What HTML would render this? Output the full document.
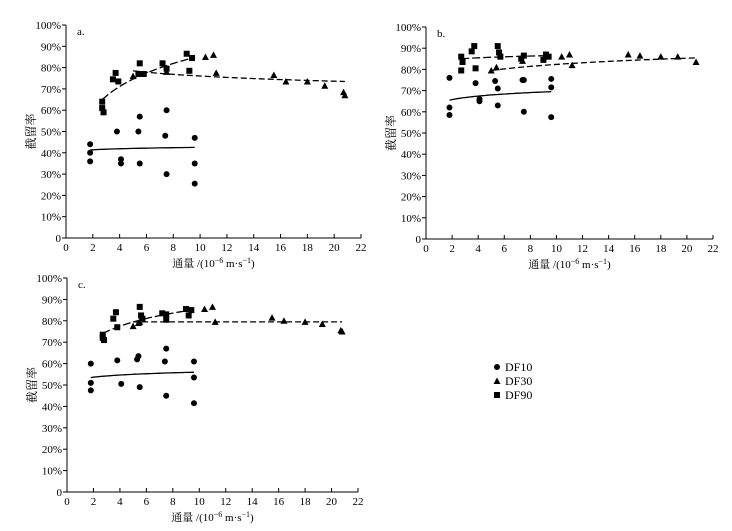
<!DOCTYPE html>
<html><head><meta charset="utf-8"><style>
html,body{margin:0;padding:0;background:#fff;}
svg{display:block;font-family:"Liberation Serif","Noto Serif CJK SC",serif;}
</style></head><body>
<svg id="chart" width="732" height="531" viewBox="0 0 732 531"></svg>
<script>
// ---- data ----
const xTicks = [0,2,4,6,8,10,12,14,16,18,20,22];
const yTicks = [0,10,20,30,40,50,60,70,80,90,100];
const seriesNames = ["DF10","DF30","DF90"];
// panel a
const aDF10x=[1.8,1.8,1.8,3.8,4.1,4.1,5.4,5.5,5.5,7.4,7.5,7.5,9.6,9.6,9.6];
const aDF10y=[44,40,36,50,37,35,50,57,35,48,60,30,47,35,25.5];
const aDF30x=[5.0,5.5,7.5,10.4,11,11.2,15.5,16.4,18,19.3,20.7,20.8];
const aDF30y=[76,77,78,85,86,77.5,76.5,73.5,73.5,71.5,68.5,67];
const aDF90x=[2.7,2.7,2.8,3.5,3.7,3.9,5.4,5.5,5.6,5.8,7.2,7.5,9.0,9.2,9.4];
const aDF90y=[64,61,59,74.5,77.5,73.5,77,82,77,77,82,79.5,86.5,78.5,84.5];
const aFitA=[40.9,84.1,49.5], aFitB=[0.72,-3.5,15.6];
// panel b
const bDF10x=[1.8,1.8,1.8,3.8,4.1,4.1,5.3,5.5,5.5,7.4,7.5,7.5,9.6,9.6,9.6];
const bDF10y=[76,62,58.5,73.5,66,65,74.5,71,63,75,75,60,75.5,71.5,57.5];
const bDF30x=[5.0,5.4,7.4,10.4,11,11.2,15.5,16.4,18,19.3,20.7];
const bDF30y=[79.5,81,84,86,87,82,87,86.5,86,86,83.5];
const bDF90x=[2.7,2.7,2.8,3.5,3.7,3.8,5.5,5.6,5.7,7.3,7.5,9.0,9.2,9.4];
const bDF90y=[86,79.5,83.5,88.5,91,80.5,91,88,86,85,86.5,84.5,87,86];
const bFitA=[64.1,72.7,83.8], bFitB=[2.39,4.2,1.2];
// panel c
const cDF10x=[1.8,1.8,1.8,3.8,4.1,5.3,5.4,5.5,7.4,7.5,7.5,9.6,9.6,9.6];
const cDF10y=[60,51,47.5,61.5,50.5,62,63.5,49,61,67,45,61,53.5,41.5];
const cDF30x=[5.0,5.4,5.5,10.4,11,11.2,15.5,16.4,18,19.3,20.7,20.8];
const cDF30y=[77.5,79,79.5,85.5,86.5,79.5,81.5,80,79.5,78.5,75.5,75];
const cDF90x=[2.7,2.7,2.8,3.5,3.7,3.8,5.5,5.6,5.7,7.2,7.5,7.5,9.0,9.2,9.4];
const cDF90y=[73.5,72,71,81,84,77,86.5,82.5,81,83.5,80.5,83,85.5,82.5,85];
const cFitA=[52.6,79.5,65.3], cFitB=[1.49,0,8.8];
const fitRangeLo=[1.8,5.0,2.7], fitRangeHi=[9.6,20.8,9.4];

const NS="http://www.w3.org/2000/svg";
const svg=document.getElementById('chart');
function el(tag,attrs,parent){const e=document.createElementNS(NS,tag);for(const k in attrs)e.setAttribute(k,attrs[k]);(parent||svg).appendChild(e);return e;}

function panel(id,label,L,R,T,B,sx,sy,fitA,fitB){
  const g=el('g',{});
  
  
  const X=v=>L+(R-L)*v/22, Y=v=>B-(B-T)*v/100;
  const axes=el('g',{},g);
  
  
  el('line',{x1:L,y1:T,x2:L,y2:B,stroke:'#000','stroke-width':1},axes);
  el('line',{x1:L,y1:B,x2:R,y2:B,stroke:'#000','stroke-width':1},axes);
  xTicks.forEach(t=>{
    el('line',{x1:X(t),y1:B,x2:X(t),y2:B-4,stroke:'#000'},axes);
    const tx=el('text',{x:X(t),y:B+13,'font-size':11,'text-anchor':'middle'},axes);
    tx.textContent=t;
    
    
  });
  yTicks.forEach(t=>{
    el('line',{x1:L,y1:Y(t),x2:L-4,y2:Y(t),stroke:'#000'},axes);
    const tx=el('text',{x:L-5,y:Y(t)+4,'font-size':11,'text-anchor':'end'},axes);
    tx.textContent=t===0?'0':t+'%';
    
    
  });
  const pl=el('text',{x:L+11,y:T+10,'font-size':11},g);
  pl.textContent=label;
  
  
  const xt=el('text',{x:(L+R)/2,y:B+29,'font-size':11,'text-anchor':'middle'},g);
  xt.innerHTML='通量 /(10<tspan dy="-4" font-size="8">−6</tspan><tspan dy="4"> m·s</tspan><tspan dy="-4" font-size="8">−1</tspan><tspan dy="4">)</tspan>';
  
  
  const yt=el('text',{x:0,y:0,'font-size':12,'text-anchor':'middle',transform:`translate(${L-31},${(T+B)/2}) rotate(-90)`},g);
  yt.textContent='截留率';
  
  
  // fits
  for(let s=0;s<3;s++){
    let d='';
    for(let i=0;i<=40;i++){const v=fitRangeLo[s]+(fitRangeHi[s]-fitRangeLo[s])*i/40;const p=fitA[s]+fitB[s]*Math.log(v);d+=(i?'L':'M')+X(v).toFixed(1)+','+Y(p).toFixed(1);}
    const fp=el('path',{d:d,fill:'none',stroke:'#000','stroke-width':1.3,'stroke-dasharray':s===0?'none':(s===1?'6,3':'8,3')},g);
    
    
  }
  // points
  const sets=[[sx[0],sy[0],'c'],[sx[1],sy[1],'t'],[sx[2],sy[2],'s']];
  sets.forEach((st,si)=>{
    st[0].forEach((v,i)=>{
      const px=X(v),py=Y(st[1][i]);let m;
      if(st[2]==='c')m=el('circle',{cx:px,cy:py,r:3,fill:'#000'},g);
      else if(st[2]==='t')m=el('polygon',{points:`${px},${py-3.5} ${px-3.5},${py+3} ${px+3.5},${py+3}`,fill:'#000'},g);
      else m=el('rect',{x:px-3,y:py-3,width:6,height:6,fill:'#000'},g);
      
      
    });
  });
}
panel('a','a.',66,361,25,238,[aDF10x,aDF30x,aDF90x],[aDF10y,aDF30y,aDF90y],aFitA,aFitB);
panel('b','b.',426,713,27,239,[bDF10x,bDF30x,bDF90x],[bDF10y,bDF30y,bDF90y],bFitA,bFitB);
panel('c','c.',67,358,278,492,[cDF10x,cDF30x,cDF90x],[cDF10y,cDF30y,cDF90y],cFitA,cFitB);

// legend
const lg=el('g',{});


const rows=[367,381,395];
rows.forEach((ry,i)=>{
  let m;
  if(i===0)m=el('circle',{cx:497,cy:ry,r:3,fill:'#000'},lg);
  else if(i===1)m=el('polygon',{points:`497,${ry-3.5} 493.5,${ry+3} 500.5,${ry+3}`,fill:'#000'},lg);
  else m=el('rect',{x:494,y:ry-3,width:6,height:6,fill:'#000'},lg);
  
  
  const t=el('text',{x:505,y:ry+4,'font-size':12},lg);
  t.textContent=seriesNames[i];
  
  
});
</script>
</body></html>
